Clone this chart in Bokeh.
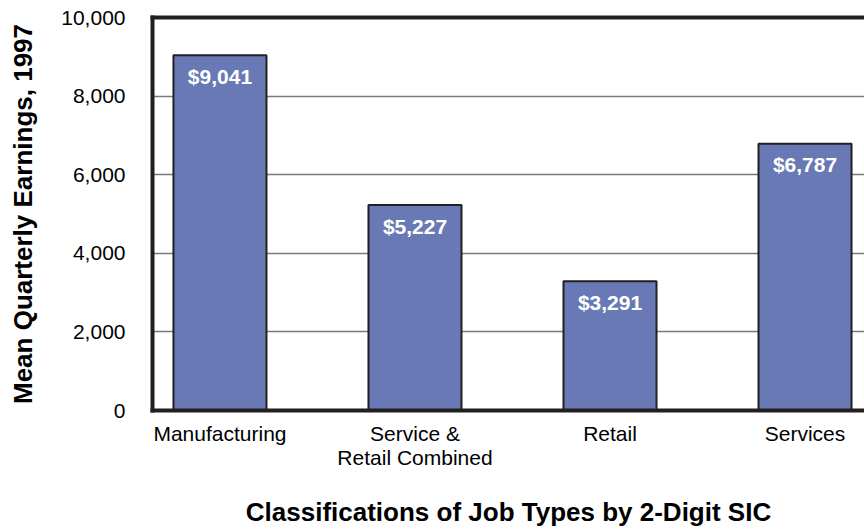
from bokeh.plotting import figure
from bokeh.models import (Range1d, FixedTicker, LinearAxis, ColumnDataSource,
                          LabelSet, NumeralTickFormatter)
from bokeh.core.properties import value
from bokeh.embed import file_html
from bokeh.resources import INLINE

categories = ["Manufacturing", "Service &\nRetail Combined", "Retail", "Services"]
earnings = [9041, 5227, 3291, 6787]
bar_labels = ["$9,041", "$5,227", "$3,291", "$6,787"]
y_ticks = [0, 2000, 4000, 6000, 8000, 10000]

FONT = "Liberation Sans"
DARK = "#231f20"

xs = list(range(len(categories)))
src = ColumnDataSource(dict(x=xs, top=earnings, lab=bar_labels))

p = figure(width=864, height=529, output_backend="svg", toolbar_location=None,
           x_range=Range1d(-0.346, 3.305), y_range=Range1d(0, 10000),
           min_border_left=152, min_border_top=17, min_border_right=0,
           min_border_bottom=119)
p.outline_line_color = None
p.background_fill_color = "white"
p.border_fill_color = "white"

p.vbar(x="x", top="top", width=0.477, bottom=0, source=src,
       fill_color="#6879b5", line_color=DARK, line_width=2)

labels = LabelSet(x="x", y="top", text="lab", source=src, y_offset=-21,
                  text_align="center", text_baseline="middle",
                  text_color="white", text_font=value(FONT), text_font_style="bold",
                  text_font_size="21px")
p.add_layout(labels)

# grid
p.xgrid.visible = False
p.ygrid.ticker = FixedTicker(ticks=y_ticks[1:-1])
p.ygrid.grid_line_color = "#7a7a7a"
p.ygrid.grid_line_width = 1.5

# y axis
ya = p.yaxis[0]
ya.ticker = FixedTicker(ticks=y_ticks)
ya.formatter = NumeralTickFormatter(format="0,0")
ya.major_tick_line_color = None
ya.minor_tick_line_color = None
ya.major_tick_out = 0
ya.major_tick_in = 0
ya.axis_line_width = 4
ya.axis_line_color = DARK
ya.axis_line_cap = "square"
ya.major_label_text_font = FONT
ya.major_label_text_font_size = "21px"
ya.major_label_text_color = "black"
ya.major_label_standoff = 27
ya.axis_label = "Mean Quarterly Earnings, 1997"
ya.axis_label_text_font = FONT
ya.axis_label_text_font_style = "bold"
ya.axis_label_text_font_size = "26px"
ya.axis_label_text_color = "black"
ya.axis_label_standoff = 20

# x axis
xa = p.xaxis[0]
xa.ticker = FixedTicker(ticks=xs)
xa.major_label_overrides = {i: c for i, c in zip(xs, categories)}
xa.major_tick_line_color = None
xa.minor_tick_line_color = None
xa.major_tick_out = 0
xa.major_tick_in = 0
xa.axis_line_width = 4
xa.axis_line_color = DARK
xa.axis_line_cap = "square"
xa.major_label_text_font = FONT
xa.major_label_text_font_size = "21px"
xa.major_label_text_line_height = 1.05
xa.major_label_text_color = "black"
xa.major_label_standoff = 11
xa.axis_label = "Classifications of Job Types by 2-Digit SIC"
xa.axis_label_text_font = FONT
xa.axis_label_text_font_style = "bold"
xa.axis_label_text_font_size = "26px"
xa.axis_label_text_line_height = 0.8
xa.axis_label_text_color = "black"
xa.axis_label_standoff = 25

# top border
top_ax = LinearAxis(ticker=FixedTicker(ticks=[]), major_tick_out=0, major_tick_in=0,
                    minor_tick_out=0, minor_tick_in=0,
                    axis_line_width=4, axis_line_color=DARK, axis_line_cap="square",
                    major_label_text_font_size="0px")
p.add_layout(top_ax, "above")

open("out.html", "w").write(file_html(p, INLINE))
